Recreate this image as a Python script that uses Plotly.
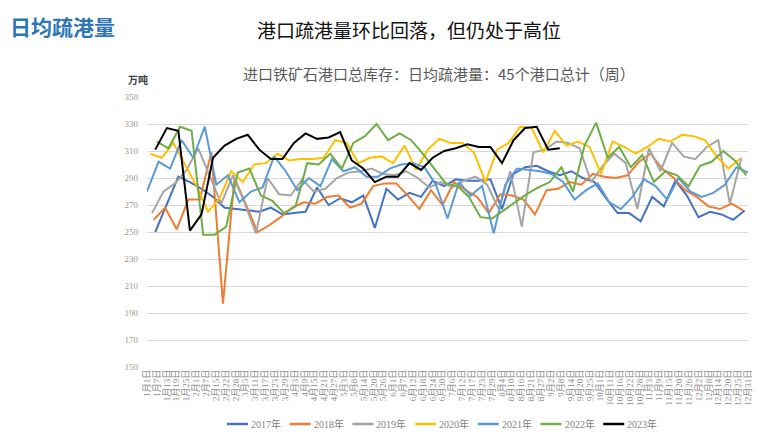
import plotly.graph_objects as go
import pandas as pd
import numpy as np

# weekly daily-average port clearance, 45 ports (10k t), each year starts on its first Friday
first_day = {
    "2017年": "2017-01-06",
    "2018年": "2018-01-05",
    "2019年": "2019-01-04",
    "2020年": "2020-01-03",
    "2021年": "2021-01-01",
    "2022年": "2022-01-07",
    "2023年": "2023-01-06",
}

y2017 = [250, 270, 291, 287, 282, 276, 268, 267, 266, 265, 268, 263, 264, 265, 283, 270,
         275, 272, 277, 253, 282, 274, 279, 276, 288, 284, 289, 288, 288, 289, 267, 293,
         298, 299, 295, 292, 295, 290, 287, 275, 264, 264, 258, 276, 269, 288, 277, 261,
         265, 263, 259, 266]
y2018 = [259, 268, 252, 274, 274, 309, 197, 290, 270, 250, 255, 261, 268, 272, 271, 276,
         277, 268, 271, 284, 286, 286, 277, 267, 281, 270, 287, 281, 276, 264, 278, 277,
         274, 263, 281, 282, 287, 285, 293, 291, 290, 292, 302, 308, 297, 290, 281, 276,
         269, 267, 271, 266]
y2019 = [264, 280, 286, 296, 312, 292, 271, 292, 272, 249, 290, 278, 277, 289, 280, 282,
         290, 294, 295, 297, 293, 292, 295, 290, 283, 287, 283, 288, 291, 285, 267, 295,
         254, 309, 311, 317, 316, 312, 287, 299, 308, 301, 267, 312, 295, 316, 306, 304,
         313, 318, 271, 305]
y2020 = [308, 305, 316, 300, 284, 265, 275, 295, 287, 300, 301, 308, 303, 304, 304, 305,
         318, 316, 301, 305, 306, 301, 314, 296, 311, 319, 316, 316, 309, 287, 311, 316,
         328, 327, 309, 325, 314, 317, 313, 293, 317, 313, 308, 313, 319, 317, 322, 321,
         318, 306, 297, 304]
y2021 = [280, 302, 297, 318, 305, 328, 285, 292, 272, 280, 283, 306, 295, 281, 290, 284,
         304, 295, 298, 291, 291, 297, 300, 301, 298, 285, 260, 287, 277, 284, 249, 285,
         297, 296, 295, 293, 287, 274, 281, 286, 272, 267, 276, 289, 284, 274, 290, 280,
         276, 279, 285, 298, 294]
y2022 = [317, 312, 328, 325, 248, 248, 254, 294, 297, 277, 273, 264, 269, 301, 300, 308,
         297, 316, 321, 330, 318, 323, 318, 308, 297, 286, 284, 276, 261, 260, 266, 272,
         278, 283, 287, 298, 280, 314, 331, 305, 313, 298, 307, 287, 295, 292, 284, 299,
         302, 310, 303, 292]
y2023 = [311, 327, 325, 251, 263, 305, 314, 319, 322, 311, 304, 304, 316, 323, 319, 320,
         324, 303, 297, 287, 291, 291, 301, 296, 305, 310, 312, 315, 313, 313, 301, 318,
         327, 328, 311, 312]

series = {
    "2017年": y2017, "2018年": y2018, "2019年": y2019, "2020年": y2020,
    "2021年": y2021, "2022年": y2022, "2023年": y2023,
}
colors = {
    "2017年": "#4472C4", "2018年": "#ED7D31", "2019年": "#A5A5A5", "2020年": "#FFC000",
    "2021年": "#5B9BD5", "2022年": "#70AD47", "2023年": "#000000",
}

x_labels = [
    "1月1日", "1月7日", "1月13日", "1月19日", "1月25日",
    "2月1日", "2月7日", "2月15日", "2月22日", "2月28日",
    "3月5日", "3月11日", "3月17日", "3月23日", "3月29日",
    "4月3日", "4月9日", "4月15日", "4月21日", "4月27日",
    "5月3日", "5月8日", "5月14日", "5月20日", "5月26日",
    "6月1日", "6月7日", "6月12日", "6月18日", "6月24日", "6月30日",
    "7月6日", "7月12日", "7月17日", "7月23日", "7月29日",
    "8月4日", "8月10日", "8月16日", "8月21日", "8月27日",
    "9月2日", "9月8日", "9月14日", "9月20日", "9月25日",
    "10月1日", "10月11日", "10月16日", "10月22日", "10月28日",
    "11月3日", "11月9日", "11月15日", "11月20日", "11月26日",
    "12月2日", "12月8日", "12月14日", "12月20日", "12月25日", "12月31日",
]

# the page body has an 8px margin, so the figure is drawn 8px smaller and shifted
OFF = 8
W, H = 775 - OFF, 445 - OFF
L, R, T, B = 147 - OFF, 27, 97 - OFF, 78
SERIF = "Liberation Serif, Noto Sans CJK SC"
CJK = "Noto Sans CJK SC"


def paper(x, y):
    # window pixel -> paper coordinates
    x, y = x - OFF, y - OFF
    return (x - L) / (W - L - R), (H - B - y) / (H - T - B)


fig = go.Figure()

for name, vals in series.items():
    start = pd.Timestamp(first_day[name])
    dates = pd.date_range(start, periods=len(vals), freq="7D")
    days = (dates - pd.Timestamp(start.year, 1, 1)).days
    fig.add_trace(go.Scatter(
        x=days, y=vals, mode="lines", name=name,
        line=dict(color=colors[name], width=2),
    ))

texts = [
    ("日均疏港量", 8, 26, "left", 21, "#2E75B6", CJK, True),
    ("港口疏港量环比回落，但仍处于高位", 409, 29, "center", 19, "#111111", CJK, False),
    ("进口铁矿石港口总库存：日均疏港量：45个港口总计（周）", 439, 73, "center", 15, "#595959", CJK, False),
    ("万吨", 138, 79, "center", 10, "#404040", CJK, True),
]
for text, x, y, anchor, size, color, family, bold in texts:
    px, py = paper(x, y)
    fig.add_annotation(
        text=f"<b>{text}</b>" if bold else text,
        x=px, y=py, xref="paper", yref="paper",
        xanchor=anchor, yanchor="middle", showarrow=False,
        font=dict(size=size, color=color, family=family),
    )

# bottom legend drawn by hand: short line + label, 63px per entry
for i, name in enumerate(series):
    x0 = 227 + 62.7 * i
    ax, ay = paper(x0, 424)
    bx, _ = paper(x0 + 21, 424)
    tx, _ = paper(x0 + 22, 424)
    fig.add_shape(type="line", xref="paper", yref="paper", x0=ax, x1=bx, y0=ay, y1=ay,
                  line=dict(color=colors[name], width=2.5))
    fig.add_annotation(text=name, x=tx, y=ay, xref="paper", yref="paper",
                       xanchor="left", yanchor="middle", showarrow=False,
                       font=dict(size=10, color="#7f7f7f", family=SERIF))

fig.update_layout(
    width=W, height=H,
    margin=dict(l=L, r=R, t=T, b=B),
    plot_bgcolor="white", paper_bgcolor="white",
    font=dict(family=SERIF, color="#8c8c8c"),
    showlegend=False,
    xaxis=dict(
        range=[0, 364], tickmode="array",
        tickvals=np.linspace(0, 364, len(x_labels)), ticktext=x_labels,
        tickangle=-90, tickfont=dict(size=9, color="#8c8c8c", family=SERIF),
        showgrid=False, zeroline=False, showline=False, ticks="",
    ),
    yaxis=dict(
        range=[150, 350], dtick=20, tick0=150,
        tickfont=dict(size=9, color="#a0958a", family=SERIF),
        gridcolor="#d9d9d9", gridwidth=1, zeroline=False, showline=False,
        ticks="", ticklabelstandoff=8,
    ),
)

fig.write_html("out.html")
